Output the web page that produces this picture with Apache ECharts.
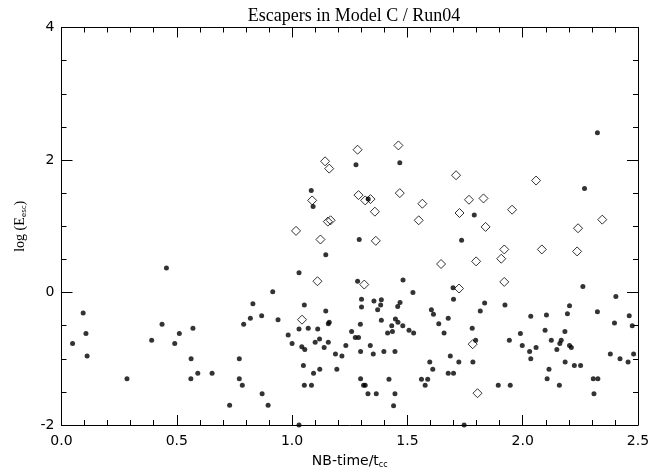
<!DOCTYPE html>
<html>
<head>
<meta charset="utf-8">
<script src="https://cdn.jsdelivr.net/npm/echarts@6/dist/echarts.min.js"></script>
<style>
html,body{margin:0;padding:0;background:#fff;}
#chart{width:663px;height:474px;}
</style>
</head>
<body>
<div id="chart"></div>
<script>
// Filled dots: NB-time / t_cc and log(E_esc)
var dotX = [0.048,0.094,0.106,0.111,0.284,0.391,0.436,0.455,0.491,0.511,0.562,0.570,0.561,0.591,0.653,0.729,0.771,0.771,0.784,0.790,0.819,0.830,0.868,0.870,0.896,0.916,0.939,0.983,1.000,1.030,1.030,
1.277,1.467,1.083,1.091,1.330,1.790,1.291,1.735,1.146,1.284,1.481,1.524,1.698,1.700,1.301,1.301,1.355,1.387,1.384,1.371,1.468,1.458,1.053,1.146,1.604,1.613,1.816,
1.070,1.042,1.055,1.049,1.053,1.084,1.093,1.120,1.100,1.119,1.111,1.139,1.157,1.157,1.161,1.188,1.216,1.194,1.233,1.258,1.274,1.288,1.296,1.297,1.297,1.310,1.317,1.329,1.365,1.339,1.352,1.387,1.398,1.414,1.435,1.432,1.448,1.459,1.480,1.446,1.420,1.446,1.440,1.507,1.527,1.597,1.610,1.561,1.588,1.577,1.636,1.659,1.677,1.686,1.723,1.677,1.700,1.781,1.784,1.030,1.746,
2.324,2.268,2.261,2.404,1.835,1.923,2.203,2.194,2.324,
1.796,2.035,2.103,2.462,1.942,1.990,1.998,2.030,2.058,2.035,2.097,2.124,2.148,2.161,2.167,2.183,2.203,2.211,2.184,2.224,2.251,2.114,2.106,2.159,1.894,1.946,2.306,2.326,2.309,2.398,2.475,2.380,2.422,2.457,2.481];
var dotY = [-0.77,-0.31,-0.62,-0.96,-1.30,-0.72,-0.48,0.37,-0.77,-0.62,-1.00,-0.54,-1.30,-1.22,-1.22,-1.70,-1.00,-1.30,-1.40,-0.48,-0.39,-0.17,-0.35,-1.53,-1.70,0.01,-0.41,-0.64,-0.77,0.30,-0.55,
1.93,1.96,1.54,1.30,1.41,1.17,0.80,0.79,0.57,0.17,0.19,0.00,0.07,-0.10,-0.10,-0.22,-0.13,-0.11,-0.19,-0.26,-0.15,-0.21,-0.19,-0.28,-0.26,-0.33,-0.28,
-0.54,-0.82,-0.86,-1.10,-1.40,-1.40,-1.22,-1.16,-0.75,-0.70,-0.55,-0.83,-0.75,-0.47,-0.45,-0.93,-0.96,-1.16,-0.80,-0.59,-0.68,-0.68,-0.48,-0.89,-1.30,-1.40,-1.40,-1.53,-1.53,-0.80,-0.93,-0.42,-0.89,-0.61,-0.59,-0.50,-0.40,-0.45,-0.50,-0.89,-1.31,-1.53,-1.71,-0.57,-0.61,-1.05,-1.16,-1.31,-1.31,-1.40,-0.47,-0.61,-0.39,-0.96,-1.05,-1.22,-1.22,-0.54,-1.05,-2.00,-2.00,
2.41,1.57,0.09,-0.06,-0.16,-0.19,-0.20,-0.32,-0.29,
-0.72,-0.36,-0.34,-0.35,-0.72,-0.62,-0.80,-0.89,-0.83,-1.00,-0.57,-0.72,-0.86,-0.77,-0.72,-0.59,-0.80,-0.83,-1.05,-1.10,-1.10,-1.16,-1.30,-1.40,-1.40,-1.40,-1.30,-1.30,-1.53,-0.46,-0.50,-0.93,-1.00,-1.05,-0.93];

// Open diamonds
var diaX = [1.284,1.461,1.143,1.161,1.711,1.087,1.288,1.317,1.340,1.467,1.565,1.767,1.359,1.155,1.167,1.549,1.726,1.017,1.123,1.363,1.646,1.798,1.110,1.313,1.724,1.043,1.783,1.804,1.830,2.058,1.954,1.839,2.240,2.345,1.920,1.907,2.083,2.236,1.920];
var diaY = [2.155,2.22,1.98,1.87,1.77,1.39,1.47,1.39,1.41,1.50,1.34,1.40,1.22,1.07,1.09,1.09,1.20,0.93,0.80,0.78,0.43,0.47,0.17,0.12,0.06,-0.41,-0.78,-1.52,1.42,1.69,1.25,0.99,0.97,1.10,0.65,0.51,0.65,0.62,0.16];

var xTicks = [0.0, 0.5, 1.0, 1.5, 2.0, 2.5];
var yTicks = [-2, 0, 2, 4];

function zip(a, b){ return a.map(function(v,i){ return [v, b[i]]; }); }

var fontSerif = '"Liberation Serif","DejaVu Serif",serif';
var fontSans = '"DejaVu Sans","Liberation Sans",sans-serif';
var axisLineStyle = {color:'#000', width:1};

function xAxisDef(pos, labels){
  return {
    type:'value', position:pos, min:xTicks[0], max:xTicks[xTicks.length-1], interval:0.5,
    axisLine:{show:true, onZero:false, lineStyle:axisLineStyle},
    axisTick:{show:true, inside:true, length:10, lineStyle:axisLineStyle},
    minorTick:{show:true, splitNumber:5, length:5, lineStyle:axisLineStyle},
    splitLine:{show:false}, minorSplitLine:{show:false},
    axisLabel:{show:labels, margin:9, color:'#000', fontFamily:fontSans, fontSize:14,
      formatter:function(v){ return v.toFixed(1); }},
    name: labels ? '{n|NB-time/t}{s|cc}' : '',
    nameLocation:'middle', nameGap:28,
    nameTextStyle:{rich:{n:{fontFamily:fontSans, fontSize:14, color:'#000'}, s:{fontFamily:fontSans, fontSize:8, color:'#000', padding:[8,0,0,0]}}}
  };
}
function yAxisDef(pos, labels){
  return {
    type:'value', position:pos, min:yTicks[0], max:yTicks[yTicks.length-1], interval:2,
    axisLine:{show:true, onZero:false, lineStyle:axisLineStyle},
    axisTick:{show:true, inside:true, length:11, lineStyle:axisLineStyle},
    minorTick:{show:true, splitNumber:4, length:5, lineStyle:axisLineStyle},
    splitLine:{show:false}, minorSplitLine:{show:false},
    axisLabel:{show:labels, margin:7, color:'#000', fontFamily:fontSans, fontSize:14},
    name: labels ? '{n|log (E}{s|esc}{n|)}' : '',
    nameLocation:'middle', nameGap:34, nameRotate:90,
    nameTextStyle:{rich:{n:{fontFamily:fontSerif, fontSize:14, color:'#000'}, s:{fontFamily:fontSans, fontSize:7, color:'#000', padding:[8,0,0,0]}}}
  };
}

var chart = echarts.init(document.getElementById('chart'), null, {renderer:'canvas'});
chart.setOption({
  backgroundColor:'#fff',
  animation:false,
  title:{text:'Escapers in Model C / Run04', left:349, textAlign:'center', top:2,
    textStyle:{fontFamily:fontSerif, fontWeight:'normal', fontSize:18, color:'#000'}},
  grid:{left:61.5, right:25, top:27.5, bottom:44},
  xAxis:[xAxisDef('bottom', true), xAxisDef('top', false)],
  yAxis:[yAxisDef('left', true), yAxisDef('right', false)],
  series:[
    {type:'scatter', xAxisIndex:0, yAxisIndex:0, data:zip(dotX, dotY), symbol:'circle', symbolSize:5,
      itemStyle:{color:'#000'}, silent:true},
    {type:'scatter', xAxisIndex:0, yAxisIndex:0, data:zip(diaX, diaY), symbol:'diamond', symbolSize:[9,9],
      itemStyle:{color:'rgba(0,0,0,0)', borderColor:'#000', borderWidth:1}, silent:true}
  ]
});
</script>
</body>
</html>
